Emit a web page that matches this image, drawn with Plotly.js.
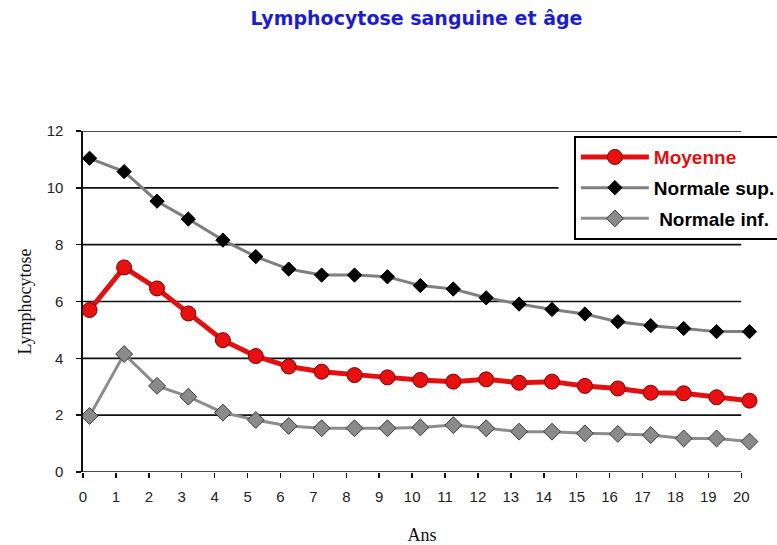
<!DOCTYPE html>
<html>
<head>
<meta charset="utf-8">
<script src="https://cdn.plot.ly/plotly-3.0.1.min.js"></script>
<style>html,body{margin:0;padding:0;background:#fff;}#chart{width:777px;height:545px;}</style>
</head>
<body>
<div id="chart"></div>
<script>
// Ages (years)
const ages = [0.2, 1.25, 2.25, 3.2, 4.25, 5.25, 6.25, 7.25, 8.25, 9.25, 10.25, 11.25, 12.25, 13.25, 14.25, 15.25, 16.25, 17.25, 18.25, 19.25, 20.25];
// Series values
const moyenne = [5.70, 7.20, 6.46, 5.58, 4.64, 4.08, 3.71, 3.53, 3.41, 3.33, 3.24, 3.18, 3.26, 3.14, 3.18, 3.03, 2.94, 2.79, 2.77, 2.63, 2.51];
const normaleSup = [11.04, 10.57, 9.53, 8.90, 8.16, 7.58, 7.14, 6.93, 6.93, 6.87, 6.56, 6.44, 6.13, 5.91, 5.72, 5.56, 5.29, 5.15, 5.05, 4.94, 4.94];
const normaleInf = [1.97, 4.15, 3.03, 2.65, 2.09, 1.83, 1.62, 1.54, 1.54, 1.54, 1.57, 1.65, 1.54, 1.42, 1.42, 1.36, 1.34, 1.30, 1.18, 1.18, 1.07];
// Tick values
const xTicks = [0,1,2,3,4,5,6,7,8,9,10,11,12,13,14,15,16,17,18,19,20];
const yTicks = [0,2,4,6,8,10,12];
const seriesNames = ['Moyenne', 'Normale sup.', 'Normale inf.'];

const traces = [
  {
    x: ages, y: normaleSup, type: 'scatter', mode: 'lines+markers',
    name: '<b>' + seriesNames[1] + '</b>', legendgroup: 'b', legendrank: 2,
    line: {color: '#7f7f7f', width: 3},
    marker: {symbol: 'diamond', size: 11, color: '#000', line: {color: '#000', width: 1}}
  },
  {
    x: ages, y: normaleInf, type: 'scatter', mode: 'lines+markers',
    name: '<b> ' + seriesNames[2] + '</b>', legendgroup: 'c', legendrank: 3,
    line: {color: '#8c8c8c', width: 3},
    marker: {symbol: 'diamond', size: 13, color: '#8a8a8a', line: {color: '#3a3a3a', width: 1}}
  },
  {
    x: ages, y: moyenne, type: 'scatter', mode: 'lines+markers',
    name: '<b><span style="color:#e01010">' + seriesNames[0] + '</span></b>', legendgroup: 'a', legendrank: 1,
    line: {color: '#e31010', width: 5},
    marker: {symbol: 'circle', size: 15, color: '#e81010', line: {color: '#7a0000', width: 1}}
  }
];

// horizontal reference lines (gridlines) drawn up to age 20
const shapes = yTicks.map(v => ({
  type: 'line', xref: 'x', yref: 'y', layer: 'below',
  x0: 0, x1: (v === 10 ? 14.45 : 20), y0: v, y1: v,
  line: {color: '#111', width: 1.6}
}));

const layout = {
  width: 777, height: 545,
  paper_bgcolor: '#fff', plot_bgcolor: '#fff',
  margin: {l: 83, r: 16, t: 131, b: 73, autoexpand: false},
  title: {
    text: '<b>Lymphocytose sanguine et âge</b>',
    font: {family: 'DejaVu Sans', size: 19, color: '#1e1ec8'},
    xref: 'container', yref: 'container', x: 0.536, y: 0.967, xanchor: 'center', yanchor: 'middle'
  },
  showlegend: true,
  legend: {
    x: 0.724, y: 0.985, xanchor: 'left', yanchor: 'top',
    bgcolor: '#fff', bordercolor: '#000', borderwidth: 2,
    font: {family: 'Liberation Sans, Arial, sans-serif', size: 19, color: '#000'},
    tracegroupgap: 3, traceorder: 'grouped', itemwidth: 68
  },
  xaxis: {
    range: [0, 20.6], tickmode: 'array', tickvals: xTicks, ticktext: xTicks.map(String),
    showgrid: false, zeroline: false, showline: false,
    ticks: 'outside', ticklen: 5, tickwidth: 1.5, tickcolor: '#111',
    ticklabelstandoff: 6,
    tickfont: {family: 'Liberation Sans, Arial, sans-serif', size: 15, color: '#222'},
    title: {text: 'Ans', font: {family: 'Liberation Serif, Times New Roman, serif', size: 18, color: '#111'}, standoff: 27}
  },
  xaxis2: {
    range: [0, 20.6], overlaying: 'x', anchor: 'y', side: 'bottom',
    tickmode: 'array', tickvals: xTicks, showticklabels: false,
    showgrid: false, zeroline: false, showline: false,
    ticks: 'inside', ticklen: 5, tickwidth: 1.5, tickcolor: '#111'
  },
  yaxis: {
    range: [0, 12], tickmode: 'array', tickvals: yTicks, ticktext: yTicks.map(String),
    showgrid: false, zeroline: false, showline: true, linecolor: '#111', linewidth: 1.6,
    ticks: 'outside', ticklen: 5, tickwidth: 1.5, tickcolor: '#111',
    ticklabelstandoff: 10,
    tickfont: {family: 'Liberation Sans, Arial, sans-serif', size: 15, color: '#222'},
    title: {text: 'Lymphocytose', font: {family: 'Liberation Serif, Times New Roman, serif', size: 18, color: '#111'}, standoff: 10}
  },
  shapes: shapes
};

Plotly.newPlot('chart', traces, layout, {displayModeBar: false, staticPlot: true});
</script>
</body>
</html>
